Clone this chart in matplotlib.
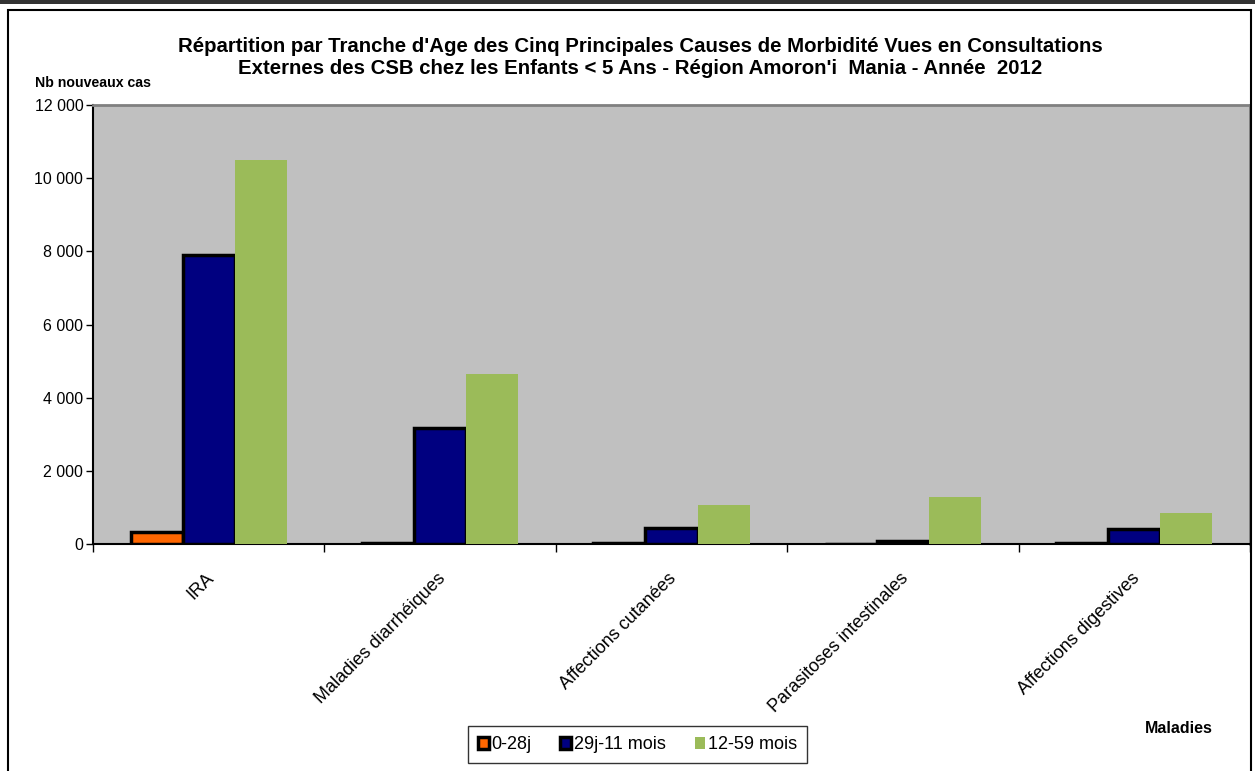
import numpy as np
import matplotlib.pyplot as plt
from matplotlib.patches import Rectangle
from matplotlib.ticker import FuncFormatter

plt.rcParams['font.family'] = ['Liberation Sans', 'DejaVu Sans']

categories = ["IRA", "Maladies diarrhéiques", "Affections cutanées",
              "Parasitoses intestinales", "Affections digestives"]
series_names = ["0-28j", "29j-11 mois", "12-59 mois"]
v_0_28j = [320, 30, 30, 10, 30]
v_29j_11m = [7890, 3180, 450, 90, 410]
v_12_59m = [10490, 4640, 1075, 1295, 857]
colors = ["#FF6600", "#000080", "#9BBB59"]

fig = plt.figure(figsize=(12.55, 7.71), dpi=100)
ax = fig.add_axes([0.0741, 0.2944, 0.9219, 0.5694])

# frame around the chart, like the spreadsheet export
fig.patches.append(Rectangle((0.0065, -0.01), 0.99, 0.997, transform=fig.transFigure,
                             fill=False, edgecolor="black", linewidth=1.5))
fig.patches.append(Rectangle((0, 0.995), 1, 0.006, transform=fig.transFigure,
                             facecolor="#333333", edgecolor="none"))

ax.set_facecolor("#C0C0C0")
x = np.arange(len(categories))
w = 0.225
all_vals = [v_0_28j, v_29j_11m, v_12_59m]
for i, (vals, c, name) in enumerate(zip(all_vals, colors, series_names)):
    ec = "black" if i < 2 else "none"
    ax.bar(x + (i - 1) * w, vals, w, color=c, edgecolor=ec, linewidth=2.5 if i < 2 else 0,
           label=name, zorder=3)

ax.set_xlim(-0.5, len(categories) - 0.5)
ax.set_ylim(0, 12000)
ax.set_yticks(np.arange(0, 12001, 2000))
ax.yaxis.set_major_formatter(FuncFormatter(lambda v, p: f"{int(v):,}".replace(",", " ")))
ax.set_xticks(np.arange(-0.5, len(categories), 1.0))
ax.set_xticklabels([])
ax.tick_params(axis="x", length=6, width=1, direction="out")
ax.tick_params(axis="y", length=5, width=1, labelsize=11.5, pad=2)
for i, cat in enumerate(categories):
    ax.text(i - 0.015, -700, cat, rotation=45, ha="right", va="top", fontsize=13,
            rotation_mode="anchor")

for s in ["top", "right"]:
    ax.spines[s].set_color("#808080")
    ax.spines[s].set_linewidth(2)
ax.spines["left"].set_linewidth(1.5)
ax.spines["bottom"].set_linewidth(1.5)

fig.text(0.51, 0.926, "Répartition par Tranche d'Age des Cinq Principales Causes de Morbidité Vues en Consultations\n"
         "Externes des CSB chez les Enfants < 5 Ans - Région Amoron'i  Mania - Année  2012",
         ha="center", va="center", fontsize=14.7, fontweight="bold", linespacing=1.2)
fig.text(0.028, 0.892, "Nb nouveaux cas", fontsize=10.2, fontweight="bold", ha="left", va="center")
fig.text(0.966, 0.055, "Maladies", fontsize=11.5, fontweight="bold", ha="right", va="center")

leg = fig.legend(loc="center", bbox_to_anchor=(0.508, 0.034), ncol=3, fontsize=13,
                 frameon=True, fancybox=False, edgecolor="black", handlelength=0.6,
                 handleheight=0.6, handletextpad=0.15, columnspacing=1.6, borderpad=0.55)
leg.get_frame().set_linewidth(1)

fig.savefig("out.png", dpi=100)
